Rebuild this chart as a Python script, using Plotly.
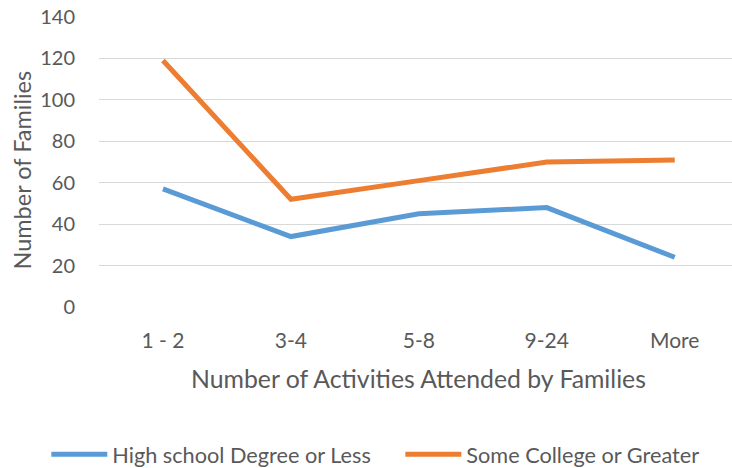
import plotly.graph_objects as go

categories = ["1 - 2", "3-4", "5-8", "9-24", "More"]
high_school = [57, 34, 45, 48, 24]
some_college = [119, 52, 61, 70, 71]
y_ticks = [0, 20, 40, 60, 80, 100, 120, 140]

W, H = 732, 468
L, R, T, B = 98.7, 0, 16.3, 160.7
pw = W - L - R
ph = H - T - B
y_top = 140 * ph / 290.0  # keeps 140 one pixel below the plot top

font = "Lato"
grey = "#595959"

fig = go.Figure()
fig.add_trace(go.Scatter(x=list(range(len(categories))), y=high_school, mode="lines",
                         name="High school Degree or Less",
                         line=dict(color="#5B9BD5", width=5)))
fig.add_trace(go.Scatter(x=list(range(len(categories))), y=some_college, mode="lines",
                         name="Some College or Greater",
                         line=dict(color="#ED7D31", width=5)))

def px_x(p):
    return (p - L) / pw

def px_y(p):
    return (H - B - p) / ph

fig.update_layout(
    width=W, height=H,
    margin=dict(l=L, r=R, t=T, b=B, autoexpand=False),
    paper_bgcolor="white", plot_bgcolor="white",
    font=dict(family=font, size=20, color=grey),
    showlegend=True,
    legend=dict(orientation="h", x=px_x(46), y=px_y(455),
                xanchor="left", yanchor="middle", itemwidth=56,
                font=dict(size=21.7, color=grey), entrywidth=283, entrywidthmode="pixels",
                bgcolor="rgba(0,0,0,0)"),
    xaxis=dict(tickmode="array", tickvals=list(range(len(categories))), ticktext=categories,
               range=[-0.5, -0.5 + pw / 128.0], showgrid=False, zeroline=False,
               showline=False, ticks="", ticklabelstandoff=19,
               tickfont=dict(size=21, color=grey), fixedrange=True),
    yaxis=dict(range=[0, y_top], tickmode="array", tickvals=y_ticks,
               ticktext=[str(v) for v in y_ticks], showgrid=True, gridcolor="#D9D9D9",
               gridwidth=1, zeroline=False, showline=False, ticks="",
               ticklabeloverflow="allow",
               ticklabelstandoff=23, tickfont=dict(size=20, color=grey), fixedrange=True),
    annotations=[
        dict(text="Number of Activities Attended by Families", xref="paper", yref="paper",
             x=px_x(418.5), y=px_y(378.5), showarrow=False, xanchor="center", yanchor="middle",
             font=dict(size=24.8, color=grey)),
        dict(text="Number of Families", xref="paper", yref="paper",
             x=px_x(21.5), y=px_y(170), showarrow=False, xanchor="center", yanchor="middle",
             textangle=-90, font=dict(size=23.5, color=grey)),
    ],
)

fig.write_html("out.html", config={"displayModeBar": False},
               post_script="document.body.style.margin='0';document.body.style.overflow='hidden';")
